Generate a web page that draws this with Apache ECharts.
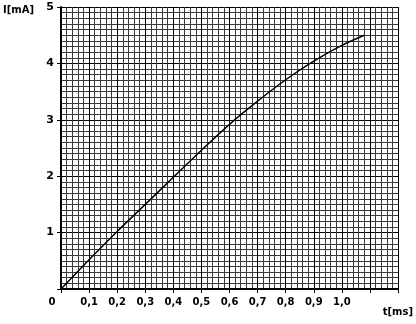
<!DOCTYPE html>
<html><head><meta charset="utf-8">
<script src="https://cdn.jsdelivr.net/npm/echarts@6/dist/echarts.min.js"></script>
<style>html,body{margin:0;padding:0;background:#fff}#c{width:416px;height:324px}</style>
</head><body><div id="c"></div>
<script>
var tValues = [0, 0.1, 0.2, 0.3, 0.4, 0.5, 0.6, 0.7, 0.8, 0.9, 1.0, 1.08];
var iValues = [0, 0.52, 1.02, 1.50, 1.98, 2.46, 2.92, 3.33, 3.71, 4.04, 4.32, 4.50];
var xTickLabels = ['0', '0,1', '0,2', '0,3', '0,4', '0,5', '0,6', '0,7', '0,8', '0,9', '1,0', '', ''];
var yTickLabels = ['', '1', '2', '3', '4', '5'];
var xName = 't[ms]';
var yName = 'I[mA]';

var font = 'DejaVu Sans, sans-serif';
var chart = echarts.init(document.getElementById('c'));
chart.setOption({
  animation: false,
  grid: {left: 58, right: 17, top: 7, bottom: 35},
  xAxis: {
    type: 'value', min: 0, max: 1.2, interval: 0.1,
    name: xName, nameLocation: 'end', nameGap: 0,
    nameTextStyle: {fontFamily: font, fontWeight: 'bold', fontSize: 10, color: '#000', align: 'right', verticalAlign: 'top', padding: [18, -15, 0, 0]},
    axisLine: {lineStyle: {color: '#000', width: 2}},
    axisTick: {show: true, length: 4, lineStyle: {color: '#000', width: 1}},
    axisLabel: {
      margin: 8, fontFamily: font, fontWeight: 'bold', fontSize: 10, color: '#000',
      formatter: function (v) {
        var i = Math.round(v * 10);
        if (i === 0) return '{z|' + xTickLabels[0] + '}';
        return xTickLabels[i] || '';
      },
      rich: {z: {fontFamily: font, fontWeight: 'bold', fontSize: 10, color: '#000', padding: [0, 18, 0, 0]}}
    },
    splitLine: {show: true, lineStyle: {color: '#000', width: 1}},
    minorTick: {show: true, splitNumber: 5, length: 0},
    minorSplitLine: {show: true, lineStyle: {color: '#3a3a3a', width: 1}}
  },
  yAxis: {
    type: 'value', min: 0, max: 5, interval: 1,
    name: yName, nameLocation: 'end', nameGap: 0,
    nameTextStyle: {fontFamily: font, fontWeight: 'bold', fontSize: 10, color: '#000', align: 'left', verticalAlign: 'top', padding: [-2, 0, 0, -58]},
    axisLine: {show: true, lineStyle: {color: '#000', width: 2}},
    axisTick: {show: true, length: 4, lineStyle: {color: '#000', width: 1}},
    axisLabel: {
      margin: 7, fontFamily: font, fontWeight: 'bold', fontSize: 11, color: '#000',
      formatter: function (v) { return yTickLabels[Math.round(v)] || ''; }
    },
    splitLine: {show: true, lineStyle: {color: '#000', width: 1}},
    minorTick: {show: true, splitNumber: 10, length: 0},
    minorSplitLine: {show: true, lineStyle: {color: '#3a3a3a', width: 1}}
  },
  series: [{
    type: 'line', smooth: 0.3, symbol: 'none',
    lineStyle: {color: '#000', width: 1.5},
    data: tValues.map(function (t, i) { return [t, iValues[i]]; })
  }]
});
</script></body></html>
